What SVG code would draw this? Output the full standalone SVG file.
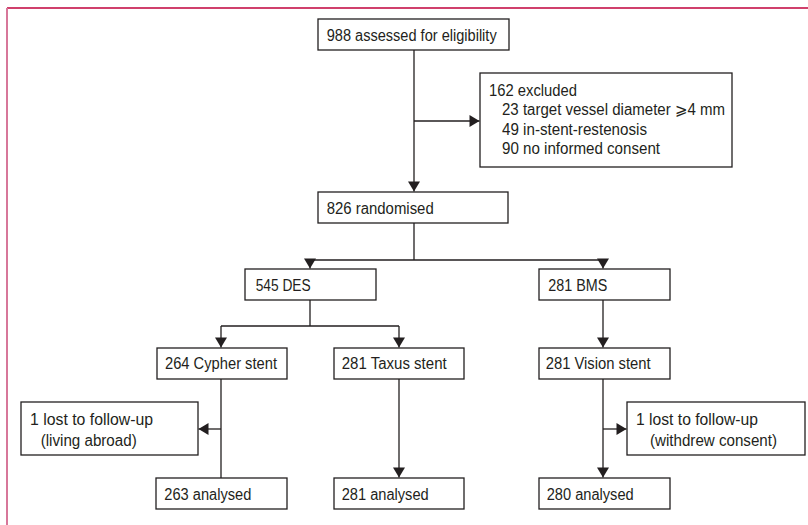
<svg xmlns="http://www.w3.org/2000/svg" width="808" height="525" viewBox="0 0 808 525">
<style>
.box{fill:#fff;stroke:#231f20;stroke-width:1.3}
.t{font-family:"Liberation Sans","DejaVu Sans",Arial,sans-serif;font-size:16px;fill:#231f20}
.c{fill:none;stroke:#231f20;stroke-width:1.3}
.a{marker-end:url(#arr)}
</style>
<defs>
<marker id="arr" markerUnits="userSpaceOnUse" markerWidth="11" markerHeight="12" refX="10" refY="6" orient="auto" viewBox="0 0 10 12">
<path d="M0,0 L10,6 L0,12 z" fill="#231f20"/>
</marker>
</defs>
<rect width="808" height="525" fill="#fff"/>
<line x1="7" y1="8" x2="808" y2="8" stroke="#c1003b" stroke-width="1.5"/>
<line x1="7" y1="8" x2="7" y2="525" stroke="#d7779a" stroke-width="2"/>

<g id="connectors">
<path class="c a" d="M414,50 V191.5"/>
<path class="c a" d="M414,121 H479.5"/>
<path class="c" d="M414,223 V260 M310,260 H603"/>
<path class="c a" d="M310,260 V268.5"/>
<path class="c a" d="M603,260 V268.5"/>
<path class="c" d="M310,300 V326 M221,326 H399"/>
<path class="c a" d="M221,326 V347.5"/>
<path class="c a" d="M399,326 V347.5"/>
<path class="c a" d="M603,300 V347.5"/>
<path class="c" d="M221,379 V478"/>
<path class="c a" d="M221,429 H198.5"/>
<path class="c a" d="M399,379 V477.5"/>
<path class="c a" d="M603,379 V477.5"/>
<path class="c a" d="M603,429 H626.5"/>
</g>

<g id="n988"><rect class="box" x="318" y="19" width="191" height="31"/><text class="t" x="326.7" y="40.5" textLength="170" lengthAdjust="spacingAndGlyphs">988 assessed for eligibility</text></g>
<g id="excluded"><rect class="box" x="480" y="73" width="252" height="94"/>
<text class="t" x="489" y="96" textLength="88" lengthAdjust="spacingAndGlyphs">162 excluded</text>
<text class="t" x="502" y="115" textLength="223" lengthAdjust="spacingAndGlyphs">23 target vessel diameter ⩾4 mm</text>
<text class="t" x="502" y="134.5" textLength="145" lengthAdjust="spacingAndGlyphs">49 in-stent-restenosis</text>
<text class="t" x="502" y="154" textLength="158" lengthAdjust="spacingAndGlyphs">90 no informed consent</text></g>
<g id="n826"><rect class="box" x="318" y="192" width="190" height="31"/><text class="t" x="326.7" y="213.5" textLength="107" lengthAdjust="spacingAndGlyphs">826 randomised</text></g>
<g id="des"><rect class="box" x="245" y="269" width="131" height="31"/><text class="t" x="255.7" y="291" textLength="55" lengthAdjust="spacingAndGlyphs">545 DES</text></g>
<g id="bms"><rect class="box" x="539" y="269" width="131" height="31"/><text class="t" x="548.3" y="291" textLength="59" lengthAdjust="spacingAndGlyphs">281 BMS</text></g>
<g id="cypher"><rect class="box" x="157" y="348" width="130" height="31"/><text class="t" x="165" y="369" textLength="112" lengthAdjust="spacingAndGlyphs">264 Cypher stent</text></g>
<g id="taxus"><rect class="box" x="334" y="348" width="130" height="31"/><text class="t" x="341.7" y="369" textLength="105" lengthAdjust="spacingAndGlyphs">281 Taxus stent</text></g>
<g id="vision"><rect class="box" x="539" y="348" width="131" height="31"/><text class="t" x="545.7" y="369" textLength="105" lengthAdjust="spacingAndGlyphs">281 Vision stent</text></g>
<g id="lost1"><rect class="box" x="21" y="402" width="177" height="53"/>
<text class="t" x="30" y="424.5" textLength="123" lengthAdjust="spacingAndGlyphs">1 lost to follow-up</text>
<text class="t" x="40.7" y="445.5" textLength="96" lengthAdjust="spacingAndGlyphs">(living abroad)</text></g>
<g id="lost2"><rect class="box" x="627" y="402" width="178" height="53"/>
<text class="t" x="636" y="424.5" textLength="122" lengthAdjust="spacingAndGlyphs">1 lost to follow-up</text>
<text class="t" x="650" y="445.5" textLength="127" lengthAdjust="spacingAndGlyphs">(withdrew consent)</text></g>
<g id="a263"><rect class="box" x="156" y="478" width="131" height="31"/><text class="t" x="164.3" y="500" textLength="87" lengthAdjust="spacingAndGlyphs">263 analysed</text></g>
<g id="a281"><rect class="box" x="334" y="478" width="130" height="31"/><text class="t" x="341.7" y="500" textLength="87" lengthAdjust="spacingAndGlyphs">281 analysed</text></g>
<g id="a280"><rect class="box" x="539" y="478" width="131" height="31"/><text class="t" x="546.7" y="500" textLength="87" lengthAdjust="spacingAndGlyphs">280 analysed</text></g>
</svg>
